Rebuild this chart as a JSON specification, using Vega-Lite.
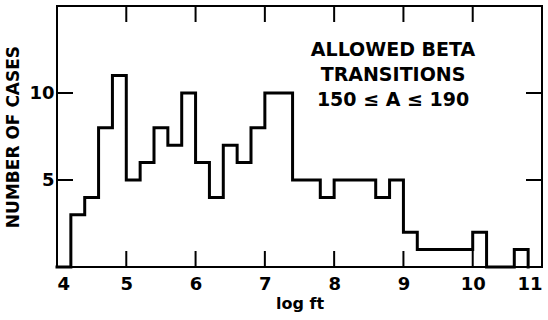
{
  "$schema": "https://vega.github.io/schema/vega-lite/v6.json",
  "autosize": "none",
  "width": 485,
  "height": 261,
  "padding": {"left": 57, "top": 6, "right": 6, "bottom": 53},
  "background": "white",
  "config": {
    "view": {"stroke": "black", "strokeWidth": 2},
    "font": "DejaVu Sans"
  },
  "datasets": {
    "hist": [
      {"logft": 4.0, "cases": 0},
      {"logft": 4.2, "cases": 3},
      {"logft": 4.4, "cases": 4},
      {"logft": 4.6, "cases": 8},
      {"logft": 4.8, "cases": 11},
      {"logft": 5.0, "cases": 5},
      {"logft": 5.2, "cases": 6},
      {"logft": 5.4, "cases": 8},
      {"logft": 5.6, "cases": 7},
      {"logft": 5.8, "cases": 10},
      {"logft": 6.0, "cases": 6},
      {"logft": 6.2, "cases": 4},
      {"logft": 6.4, "cases": 7},
      {"logft": 6.6, "cases": 6},
      {"logft": 6.8, "cases": 8},
      {"logft": 7.0, "cases": 10},
      {"logft": 7.2, "cases": 10},
      {"logft": 7.4, "cases": 5},
      {"logft": 7.6, "cases": 5},
      {"logft": 7.8, "cases": 4},
      {"logft": 8.0, "cases": 5},
      {"logft": 8.2, "cases": 5},
      {"logft": 8.4, "cases": 5},
      {"logft": 8.6, "cases": 4},
      {"logft": 8.8, "cases": 5},
      {"logft": 9.0, "cases": 2},
      {"logft": 9.2, "cases": 1},
      {"logft": 9.4, "cases": 1},
      {"logft": 9.6, "cases": 1},
      {"logft": 9.8, "cases": 1},
      {"logft": 10.0, "cases": 2},
      {"logft": 10.2, "cases": 0},
      {"logft": 10.4, "cases": 0},
      {"logft": 10.6, "cases": 1},
      {"logft": 10.8, "cases": 0}
    ],
    "xticks": [{"v": 5}, {"v": 6}, {"v": 7}, {"v": 8}, {"v": 9}, {"v": 10}],
    "yticks": [{"v": 5}, {"v": 10}]
  },
  "layer": [
    {
      "data": {"name": "xticks"},
      "mark": {"type": "point", "shape": "M0,0L0,-2", "size": 256, "filled": false, "stroke": "black", "strokeWidth": 2, "opacity": 1},
      "encoding": {"x": {"field": "v", "type": "quantitative"}, "y": {"datum": 0}}
    },
    {
      "data": {"name": "xticks"},
      "mark": {"type": "point", "shape": "M0,0L0,2", "size": 256, "filled": false, "stroke": "black", "strokeWidth": 2, "opacity": 1},
      "encoding": {"x": {"field": "v", "type": "quantitative"}, "y": {"datum": 15}}
    },
    {
      "data": {"name": "yticks"},
      "mark": {"type": "point", "shape": "M0,0L2,0", "size": 256, "filled": false, "stroke": "black", "strokeWidth": 2, "opacity": 1},
      "encoding": {"y": {"field": "v", "type": "quantitative"}, "x": {"datum": 4}}
    },
    {
      "data": {"name": "yticks"},
      "mark": {"type": "point", "shape": "M0,0L-2,0", "size": 256, "filled": false, "stroke": "black", "strokeWidth": 2, "opacity": 1},
      "encoding": {"y": {"field": "v", "type": "quantitative"}, "x": {"datum": 11}}
    },
    {
      "data": {"name": "hist"},
      "mark": {"type": "line", "interpolate": "step-after", "color": "black", "strokeWidth": 3, "strokeJoin": "miter", "strokeCap": "square"},
      "encoding": {
        "x": {
          "field": "logft", "type": "quantitative",
          "scale": {"domain": [4, 11], "nice": false, "zero": false},
          "axis": {"orient": "bottom", "values": [4, 5, 6, 7, 8, 9, 10, 11], "format": "d", "domain": false, "grid": false, "ticks": false,
            "labelFont": "DejaVu Sans", "labelFontWeight": "bold", "labelColor": "black", "labelFontSize": 18, "labelPadding": 8,
            "title": "log ft", "titleFont": "DejaVu Sans", "titleFontWeight": "bold", "titleColor": "black", "titleFontSize": 16, "titlePadding": 2}
        },
        "y": {
          "field": "cases", "type": "quantitative",
          "scale": {"domain": [0, 15], "nice": false},
          "axis": {"orient": "left", "values": [5, 10], "format": "d", "domain": false, "grid": false, "ticks": false,
            "labelFont": "DejaVu Sans", "labelFontWeight": "bold", "labelColor": "black", "labelFontSize": 18, "labelPadding": 3,
            "title": "NUMBER OF CASES", "titleFont": "DejaVu Sans", "titleFontWeight": "bold", "titleColor": "black", "titleFontSize": 17, "titlePadding": 6}
        }
      }
    },
    {
      "data": {"values": [{}]},
      "mark": {"type": "text", "font": "DejaVu Sans", "fontWeight": "bold", "fontSize": 19, "align": "center", "baseline": "middle", "lineHeight": 25, "color": "black"},
      "encoding": {
        "x": {"datum": 8.85},
        "y": {"datum": 12.45},
        "text": {"value": ["ALLOWED BETA", "TRANSITIONS", "150 ≤ A ≤ 190"]}
      }
    }
  ]
}
